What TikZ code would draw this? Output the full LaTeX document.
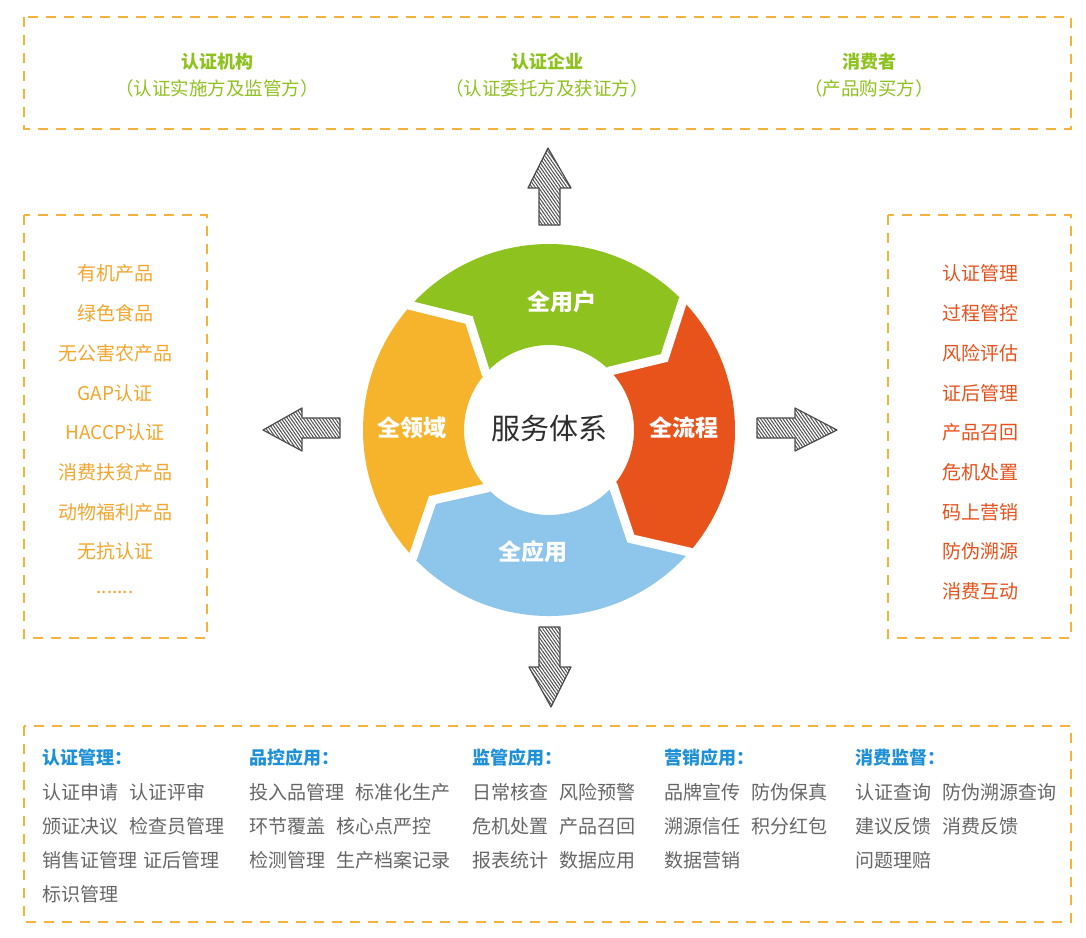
\documentclass[tikz,border=0pt]{standalone}
\usepackage{fontspec}
\setmainfont{Noto Sans CJK SC}
\usetikzlibrary{patterns.meta}
\definecolor{boxor}{HTML}{F6B23A}
\definecolor{tgreen}{HTML}{8DC21F}
\definecolor{lorange}{HTML}{F4A52C}
\definecolor{rred}{HTML}{E8501A}
\definecolor{hblue}{HTML}{1E90D8}
\definecolor{bgray}{HTML}{666666}
\definecolor{segor}{HTML}{F6B42D}
\definecolor{seggr}{HTML}{8DC21F}
\definecolor{segrd}{HTML}{E8531B}
\definecolor{segbl}{HTML}{8EC5EA}
\definecolor{ctext}{HTML}{2E2E2E}
\begin{document}
\begin{tikzpicture}[x=1pt,y=-1pt,
  dbox/.style={draw=boxor,line width=2.4pt,dash pattern=on 10pt off 8pt},
  toptitle/.style={text=tgreen,font=\fontsize{18}{20}\selectfont\bfseries},
  topsub/.style={text=tgreen,font=\fontsize{18.5}{20}\selectfont},
  litem/.style={text=lorange,font=\fontsize{19}{21}\selectfont},
  ritem/.style={text=rred,font=\fontsize{19}{21}\selectfont},
  bhead/.style={text=hblue,anchor=west,inner sep=0pt,font=\fontsize{18}{20}\selectfont\bfseries},
  bitem/.style={text=bgray,anchor=west,inner sep=0pt,font=\fontsize{19}{21}\selectfont},
  seglabel/.style={text=white,font=\fontsize{23}{25}\selectfont\bfseries},
  sketch/.style={draw=black!70,line width=1.2pt,line join=round,
    pattern={Lines[angle=-55,distance=2.6pt,line width=1pt]},pattern color=black!70}]
\useasboundingbox (0,0) rectangle (1086,937);
\fill[white] (0,0) rectangle (1086,937);

% dashed boxes
\draw[dbox] (24,17) rectangle (1071,129);
\draw[dbox] (24,215) rectangle (207,638);
\draw[dbox] (888,215) rectangle (1071,638);
\draw[dbox] (24,726) rectangle (1071,922);

% top texts
\node[toptitle] (t1) at (217,62) {认证机构};
\node[topsub]   (s1) at (217,88) {（认证实施方及监管方）};
\node[toptitle] (t2) at (547,62) {认证企业};
\node[topsub]   (s2) at (547,88) {（认证委托方及获证方）};
\node[toptitle] (t3) at (869,62) {消费者};
\node[topsub]   (s3) at (869,88) {（产品购买方）};

% left list
\node[litem] (l1) at (115,273) {有机产品};
\node[litem] (l2) at (115,313) {绿色食品};
\node[litem] (l3) at (115,353) {无公害农产品};
\node[litem] (l4) at (115,393) {GAP认证};
\node[litem] (l5) at (115,432) {HACCP认证};
\node[litem] (l6) at (115,472) {消费扶贫产品};
\node[litem] (l7) at (115,512) {动物福利产品};
\node[litem] (l8) at (115,551) {无抗认证};
\node[litem] (l9) at (115,592) {.......};

% right list
\node[ritem] (r1) at (980,273) {认证管理};
\node[ritem] (r2) at (980,313) {过程管控};
\node[ritem] (r3) at (980,353) {风险评估};
\node[ritem] (r4) at (980,393) {证后管理};
\node[ritem] (r5) at (980,432) {产品召回};
\node[ritem] (r6) at (980,472) {危机处置};
\node[ritem] (r7) at (980,512) {码上营销};
\node[ritem] (r8) at (980,551) {防伪溯源};
\node[ritem] (r9) at (980,591) {消费互动};

% ring
\begin{scope}[shift={(549,430)}]
  \fill[segor] (137:186) arc[start angle=137,end angle=222,radius=186] -- (234:136) -- (222:85)
     arc[start angle=222,end angle=137,radius=85] -- (149:136) -- cycle;
  \fill[seggr] (222:186) arc[start angle=222,end angle=316,radius=186] -- (328:136) -- (316:85)
     arc[start angle=316,end angle=222,radius=85] -- (234:136) -- cycle;
  \fill[segrd] (316:186) arc[start angle=316,end angle=401,radius=186] -- (413:136) -- (401:85)
     arc[start angle=401,end angle=316,radius=85] -- (328:136) -- cycle;
  \fill[segbl] (401:186) arc[start angle=401,end angle=497,radius=186] -- (509:136) -- (497:85)
     arc[start angle=497,end angle=401,radius=85] -- (413:136) -- cycle;
  \foreach \s in {137,222,316,401}{
    \draw[white,line width=9pt,line join=miter] (\s:194) -- (\s:186) -- (\s+12:136) -- (\s:85) -- (\s:78);
  }
  \fill[white] (0,0) circle[radius=84];
\end{scope}
\node[text=ctext,font=\fontsize{29}{31}\selectfont] (core) at (549,428) {服务体系};
\node[seglabel] (g1) at (562,302) {全用户};
\node[seglabel] (g2) at (684,428) {全流程};
\node[seglabel] (g3) at (533,552) {全应用};
\node[seglabel] (g4) at (412,428) {全领域};

% sketchy arrows
\draw[sketch] (548,148) -- (571,188) -- (560,188) -- (560,225) -- (539,225) -- (539,188) -- (528,188) -- cycle;
\draw[sketch] (551,707) -- (571,667) -- (560,667) -- (560,627) -- (539,627) -- (539,667) -- (529,667) -- cycle;
\draw[sketch] (263,430) -- (302,408) -- (302,418) -- (340,418) -- (340,438) -- (302,438) -- (302,451) -- cycle;
\draw[sketch] (837,430) -- (795,408) -- (795,418) -- (757,418) -- (757,438) -- (795,438) -- (795,451) -- cycle;

% bottom box
\node[bhead] (h1) at (42,758) {认证管理：};
\node[bitem] (a1) at (42,792) {认证申请\hspace{0.6em}认证评审};
\node[bitem] (a2) at (42,826) {颁证决议\hspace{0.6em}检查员管理};
\node[bitem] (a3) at (42,860) {销售证管理\hspace{0.35em}证后管理};
\node[bitem] (a4) at (42,894) {标识管理};

\node[bhead] (h2) at (249,758) {品控应用：};
\node[bitem] (b1) at (249,792) {投入品管理\hspace{0.6em}标准化生产};
\node[bitem] (b2) at (249,826) {环节覆盖\hspace{0.6em}核心点严控};
\node[bitem] (b3) at (249,860) {检测管理\hspace{0.6em}生产档案记录};

\node[bhead] (h3) at (472,758) {监管应用：};
\node[bitem] (c1) at (472,792) {日常核查\hspace{0.6em}风险预警};
\node[bitem] (c2) at (472,826) {危机处置\hspace{0.6em}产品召回};
\node[bitem] (c3) at (472,860) {报表统计\hspace{0.6em}数据应用};

\node[bhead] (h4) at (664,758) {营销应用：};
\node[bitem] (d1) at (664,792) {品牌宣传\hspace{0.6em}防伪保真};
\node[bitem] (d2) at (664,826) {溯源信任\hspace{0.6em}积分红包};
\node[bitem] (d3) at (664,860) {数据营销};

\node[bhead] (h5) at (855,758) {消费监督：};
\node[bitem] (e1) at (855,792) {认证查询\hspace{0.6em}防伪溯源查询};
\node[bitem] (e2) at (855,826) {建议反馈\hspace{0.6em}消费反馈};
\node[bitem] (e3) at (855,860) {问题理赔};
\end{tikzpicture}
\end{document}
